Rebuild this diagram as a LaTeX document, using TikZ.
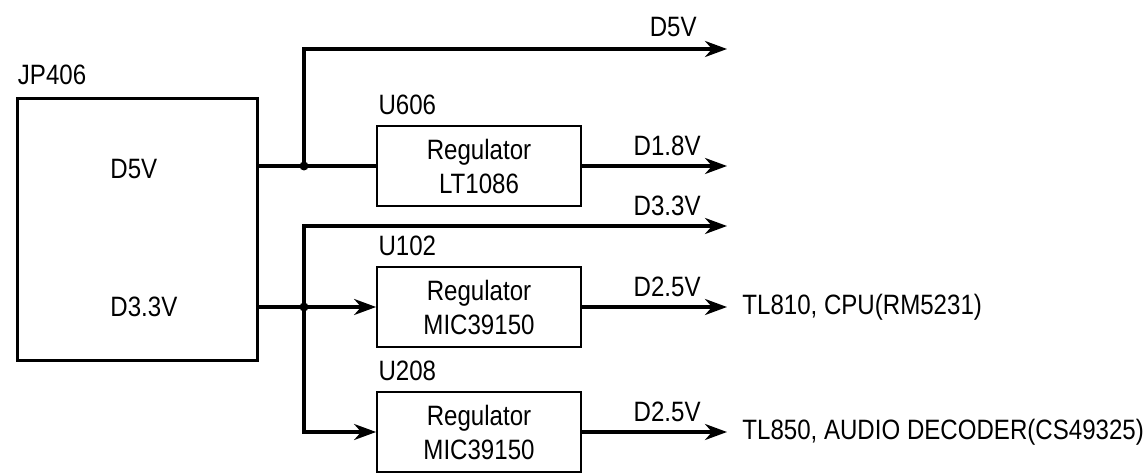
\documentclass[tikz,border=0pt]{standalone}
\usepackage{fontspec}
\setmainfont{Liberation Sans}[FakeStretch=0.86]
\usepackage{tikz}
\usetikzlibrary{arrows.meta,positioning,calc}

\begin{document}
\begin{tikzpicture}[
  x=0.5pt, y=-0.5pt,
  font=\fontsize{14}{17}\selectfont,
  lbl/.style={inner sep=1pt},
  jpbox/.style={draw, line width=1.5pt, minimum width=120pt, minimum height=130.5pt},
  reg/.style={draw, line width=0.9pt, align=center, inner sep=2pt, minimum width=102pt, minimum height=40pt},
  dot/.style={circle, fill, inner sep=0pt, minimum size=4.5pt},
  wire/.style={line width=1.6pt},
  arr/.style={wire, -{Stealth[length=11pt, width=8pt, inset=3.5pt]}}]
\useasboundingbox (0,0) rectangle (1144,475);
% connector
\node[jpbox] (jp) at (137,229.5) {};
\node[lbl, above=5pt of jp.north west, anchor=south west] (jpname) {JP406};
\node[lbl, anchor=west] (jp5) at (108,169) {D5V};
\node[lbl, anchor=west] (jp33) at (108,307) {D3.3V};
% junctions
\node[dot] (j5) at (304,166) {};
\node[dot] (j33) at (304,307) {};
% regulators
\node[reg] (u606) at (479,166) {Regulator\\LT1086};
\node[reg] (u102) at (479,307) {Regulator\\MIC39150};
\node[reg] (u208) at (479,432) {Regulator\\MIC39150};
\node[lbl, above=4pt of u606.north west, anchor=south west] {U606};
\node[lbl, above=4pt of u102.north west, anchor=south west] {U102};
\node[lbl, above=4pt of u208.north west, anchor=south west] {U208};
% outputs
\coordinate (o5) at (727,49);
\coordinate (o18) at (727,166);
\coordinate (o33) at (727,226);
\coordinate (o102) at (727,307);
\coordinate (o208) at (727,432);
\draw[wire] (jp.east |- j5) -- (j5.center) -- (u606.west);
\draw[arr] (j5.center) |- (o5);
\draw[arr] (u606) -- (o18);
\draw[wire] (jp.east |- j33) -- (j33.center);
\draw[arr] (j33.center) |- (o33);
\draw[arr] (j33.center) -- (u102.west);
\draw[arr] (j33.center) |- (u208.west);
\draw[arr] (u102) -- (o102);
\draw[arr] (u208) -- (o208);
\node[lbl, above left=5pt and 14pt of o5] (l5) {D5V};
\node[lbl, above left=4pt and 12pt of o18] (l18) {D1.8V};
\node[lbl, above left=4pt and 12pt of o33] (l33) {D3.3V};
\node[lbl, above left=4pt and 12pt of o102] (l102) {D2.5V};
\node[lbl, above left=4pt and 12pt of o208] (l208) {D2.5V};
\node[lbl, right=6.5pt of o102] (cpu) {TL810, CPU(RM5231)};
\node[lbl, right=6.5pt of o208] (audio) {TL850, AUDIO DECODER(CS49325)};
\end{tikzpicture}
\end{document}
